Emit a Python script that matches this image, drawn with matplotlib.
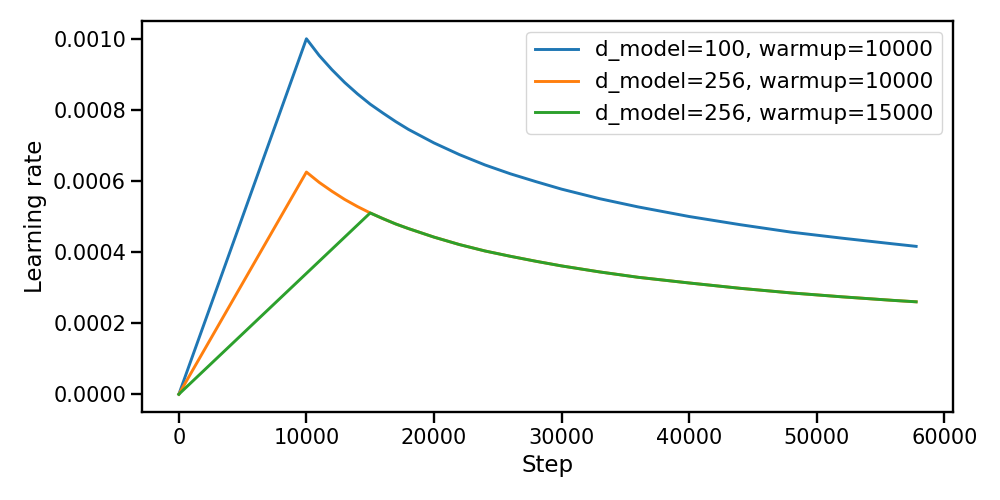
import matplotlib
matplotlib.use("Agg")
import matplotlib.pyplot as plt

# значения
steps_a = [0, 10000, 11000, 12000, 13000, 14000, 15000, 16000, 17000, 18000,
           20000, 22000, 24000, 26000, 28000, 30000, 33000, 36000, 40000,
           44000, 48000, 52000, 56000, 57800]
lr_100_10000 = [0.0, 0.001000, 0.000953, 0.000913, 0.000877, 0.000845, 0.000816,
                0.000791, 0.000767, 0.000745, 0.000707, 0.000674, 0.000645,
                0.000620, 0.000598, 0.000577, 0.000550, 0.000527, 0.000500,
                0.000477, 0.000456, 0.000439, 0.000423, 0.000416]
lr_256_10000 = [0.0, 0.000625, 0.000596, 0.000571, 0.000548, 0.000528, 0.000510,
                0.000494, 0.000479, 0.000466, 0.000442, 0.000421, 0.000403,
                0.000388, 0.000374, 0.000361, 0.000344, 0.000329, 0.000313,
                0.000298, 0.000285, 0.000274, 0.000264, 0.000260]
steps_b = [0, 15000, 16000, 17000, 18000, 20000, 22000, 24000, 26000, 28000,
           30000, 33000, 36000, 40000, 44000, 48000, 52000, 56000, 57800]
lr_256_15000 = [0.0, 0.000510, 0.000494, 0.000479, 0.000466, 0.000442, 0.000421,
                0.000403, 0.000388, 0.000374, 0.000361, 0.000344, 0.000329,
                0.000313, 0.000298, 0.000285, 0.000274, 0.000264, 0.000260]
labels = ["d_model=100, warmup=10000",
          "d_model=256, warmup=10000",
          "d_model=256, warmup=15000"]

plt.rcParams['axes.linewidth'] = 1.7
for ax_name in ['xtick', 'ytick']:
    plt.rcParams[ax_name + '.major.size'] = 8
    plt.rcParams[ax_name + '.major.width'] = 1.7
    plt.rcParams[ax_name + '.labelsize'] = 15

fig = plt.figure(figsize=(10, 5), dpi=100)
ax = fig.add_axes([0.142, 0.176, 0.811, 0.782])
ax.plot(steps_a, lr_100_10000, color='#1f77b4', lw=2.1, label=labels[0])
ax.plot(steps_a, lr_256_10000, color='#ff7f0e', lw=2.1, label=labels[1])
ax.plot(steps_b, lr_256_15000, color='#2ca02c', lw=2.1, label=labels[2])

ax.set_xlabel("Step", fontsize=16.5)
ax.set_ylabel("Learning rate", fontsize=16.5)
ax.set_xticks([0, 10000, 20000, 30000, 40000, 50000, 60000])
ax.set_yticks([0.0, 0.0002, 0.0004, 0.0006, 0.0008, 0.0010])
ax.set_yticklabels(["0.0000", "0.0002", "0.0004", "0.0006", "0.0008", "0.0010"])
ax.legend(loc='upper right', fontsize=15.5)

fig.savefig("out.png")
